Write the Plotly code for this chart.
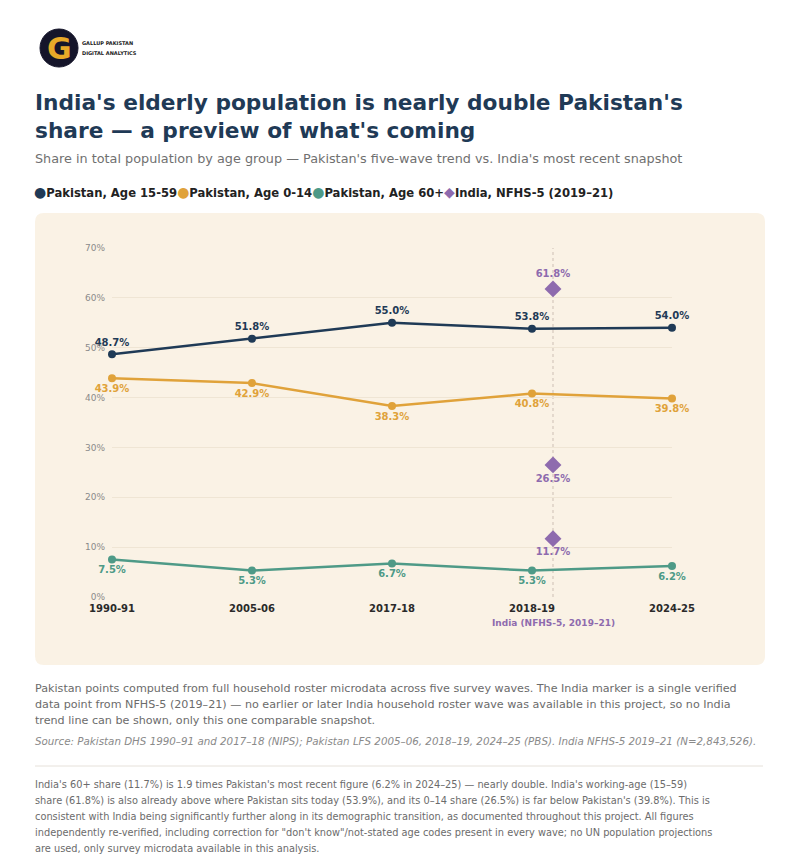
import plotly.graph_objects as go

# survey waves (x axis) and shares in %
waves = ["1990-91", "2005-06", "2017-18", "2018-19", "2024-25"]
age_15_59 = [48.7, 51.8, 55.0, 53.8, 54.0]
age_0_14 = [43.9, 42.9, 38.3, 40.8, 39.8]
age_60 = [7.5, 5.3, 6.7, 5.3, 6.2]
india_groups = ["Age 15-59", "Age 0-14", "Age 60+"]
india_vals = [61.8, 26.5, 11.7]
india_x = 3.15  # India marker sits just right of the 2018-19 wave

NAVY = "#1F3A56"
ORANGE = "#E0A23A"
TEAL = "#4E9A87"
PURPLE = "#8E6BAE"
FONT = "DejaVu Sans"

# plot area in pixels (page has an 8px body margin), used to place page furniture
L, T, W, H = 112, 248, 560, 349
PAD = 8


def fx(px):
    return (px - L) / W


def fy(py):
    return (T + H - py) / H


fig = go.Figure()

series = [
    ("Pakistan, Age 15-59", age_15_59, NAVY, "top center"),
    ("Pakistan, Age 0-14", age_0_14, ORANGE, "bottom center"),
    ("Pakistan, Age 60+", age_60, TEAL, "bottom center"),
]
for name, vals, col, pos in series:
    fig.add_trace(go.Scatter(
        x=list(range(len(waves))), y=vals, name=name,
        mode="lines+markers+text",
        line=dict(color=col, width=2.5),
        marker=dict(color=col, size=8),
        text=[f"{v:.1f}%" for v in vals], textposition=pos,
        textfont=dict(family=FONT, size=10, color=col, weight="bold"),
        cliponaxis=False, showlegend=False,
    ))

fig.add_trace(go.Scatter(
    x=[india_x] * len(india_vals), y=india_vals, name="India, NFHS-5 (2019–21)",
    mode="markers+text",
    marker=dict(color=PURPLE, size=13, symbol="diamond"),
    text=[f"{v:.1f}%" for v in india_vals],
    textposition=["top center", "bottom center", "bottom center"],
    textfont=dict(family=FONT, size=10, color=PURPLE, weight="bold"),
    cliponaxis=False, showlegend=False,
))


# panel with rounded corners
def rounded(x0, y0, x1, y1, r):
    return (f"M {fx(x0 + r)},{fy(y0)} L {fx(x1 - r)},{fy(y0)} Q {fx(x1)},{fy(y0)} {fx(x1)},{fy(y0 + r)} "
            f"L {fx(x1)},{fy(y1 - r)} Q {fx(x1)},{fy(y1)} {fx(x1 - r)},{fy(y1)} "
            f"L {fx(x0 + r)},{fy(y1)} Q {fx(x0)},{fy(y1)} {fx(x0)},{fy(y1 - r)} "
            f"L {fx(x0)},{fy(y0 + r)} Q {fx(x0)},{fy(y0)} {fx(x0 + r)},{fy(y0)} Z")


shapes = [
    dict(type="path", xref="paper", yref="paper", path=rounded(35, 213, 765, 665, 9),
         fillcolor="#FAF2E5", line=dict(width=0), layer="below"),
    dict(type="line", xref="x", yref="y domain", x0=india_x, x1=india_x, y0=0, y1=1,
         line=dict(color="#CDBFB4", width=1, dash="dot"), layer="below"),
    dict(type="line", xref="paper", yref="paper", x0=fx(35), x1=fx(763), y0=fy(766), y1=fy(766),
         line=dict(color="#E6E1DA", width=1)),
    # logo
    dict(type="circle", xref="paper", yref="paper", x0=fx(40), x1=fx(78), y0=fy(29), y1=fy(67),
         fillcolor="#15152A", line=dict(color="#15152A", width=1)),
]

annotations = [
    dict(x=fx(59), y=fy(48), text="<b>G</b>", font=dict(family=FONT, size=30, color="#E8A928")),
    dict(x=fx(80), y=fy(43), text="<b>GALLUP PAKISTAN</b>", xanchor="left",
         font=dict(family=FONT, size=5, color="#1a1a1a")),
    dict(x=fx(80), y=fy(53), text="<b>DIGITAL ANALYTICS</b>", xanchor="left",
         font=dict(family=FONT, size=5, color="#1a1a1a")),
    dict(x=fx(33), y=fy(103), text="<b>India's elderly population is nearly double Pakistan's</b>",
         xanchor="left", font=dict(family=FONT, size=21.7, color=NAVY)),
    dict(x=fx(33), y=fy(130), text="<b>share — a preview of what's coming</b>",
         xanchor="left", font=dict(family=FONT, size=21.7, color=NAVY)),
    dict(x=fx(33), y=fy(158),
         text="Share in total population by age group — Pakistan's five-wave trend vs. India's most recent snapshot",
         xanchor="left", font=dict(family=FONT, size=12.8, color="#707070")),
]

legend_items = [("●", NAVY, "Pakistan, Age 15-59"), ("●", ORANGE, "Pakistan, Age 0-14"),
                ("●", TEAL, "Pakistan, Age 60+"), ("◆", PURPLE, "India, NFHS-5 (2019–21)")]
legend_text = "".join(f"<span style='color:{c};font-size:14px'>{s}</span><b>{t}</b>" for s, c, t in legend_items)
annotations.append(dict(x=fx(32), y=fy(192), text=legend_text, xanchor="left",
                        font=dict(family=FONT, size=11.6, color="#222222")))

annotations.append(dict(x=india_x, y=fy(623), xref="x", text="<b>India (NFHS-5, 2019–21)</b>",
                        font=dict(family=FONT, size=9, color=PURPLE)))

note = [
    "Pakistan points computed from full household roster microdata across five survey waves. The India marker is a single verified",
    "data point from NFHS-5 (2019–21) — no earlier or later India household roster wave was available in this project, so no India",
    "trend line can be shown, only this one comparable snapshot.",
]
for i, line in enumerate(note):
    annotations.append(dict(x=fx(33), y=fy(688 + 16 * i), text=line, xanchor="left",
                            font=dict(family=FONT, size=11.15, color="#6B6B6B")))

annotations.append(dict(x=fx(33), y=fy(741), xanchor="left",
                        text="<i>Source: Pakistan DHS 1990–91 and 2017–18 (NIPS); Pakistan LFS 2005–06, 2018–19, 2024–25 (PBS). India NFHS-5 2019–21 (N=2,843,526).</i>",
                        font=dict(family=FONT, size=10.3, color="#8A8A8A")))

para = [
    "India's 60+ share (11.7%) is 1.9 times Pakistan's most recent figure (6.2% in 2024–25) — nearly double. India's working-age (15–59)",
    "share (61.8%) is also already above where Pakistan sits today (53.9%), and its 0–14 share (26.5%) is far below Pakistan's (39.8%). This is",
    "consistent with India being significantly further along in its demographic transition, as documented throughout this project. All figures",
    "independently re-verified, including correction for \"don't know\"/not-stated age codes present in every wave; no UN population projections",
    "are used, only survey microdata available in this analysis.",
]
for i, line in enumerate(para):
    annotations.append(dict(x=fx(33), y=fy(784 + 16 * i), text=line, xanchor="left",
                            font=dict(family=FONT, size=9.8, color="#6B6B6B")))

for a in annotations:
    a.setdefault("xref", "paper")
    a.setdefault("yref", "paper")
    a.setdefault("yanchor", "middle")
    a.setdefault("xanchor", "center")
    a["showarrow"] = False

fig.update_layout(
    width=800, height=863,
    margin=dict(l=L - PAD, r=800 - L - W + PAD, t=T - PAD, b=863 - T - H + PAD),
    paper_bgcolor="white", plot_bgcolor="rgba(0,0,0,0)",
    shapes=shapes, annotations=annotations, showlegend=False,
    font=dict(family=FONT),
)
fig.update_xaxes(range=[0, 4], tickvals=list(range(len(waves))), ticktext=[f"<b>{w}</b>" for w in waves],
                 tickfont=dict(family=FONT, size=10, color="#2A2A2A"), showgrid=False, zeroline=False,
                 showline=False, ticks="", ticklabelstandoff=4)
fig.update_yaxes(range=[0, 70], dtick=10, ticksuffix="%", tickfont=dict(family=FONT, size=9, color="#8A8A8A"),
                 gridcolor="#EFE5D4", zeroline=False, showline=False, ticks="", ticklabelstandoff=6)

fig.write_html("out.html")
